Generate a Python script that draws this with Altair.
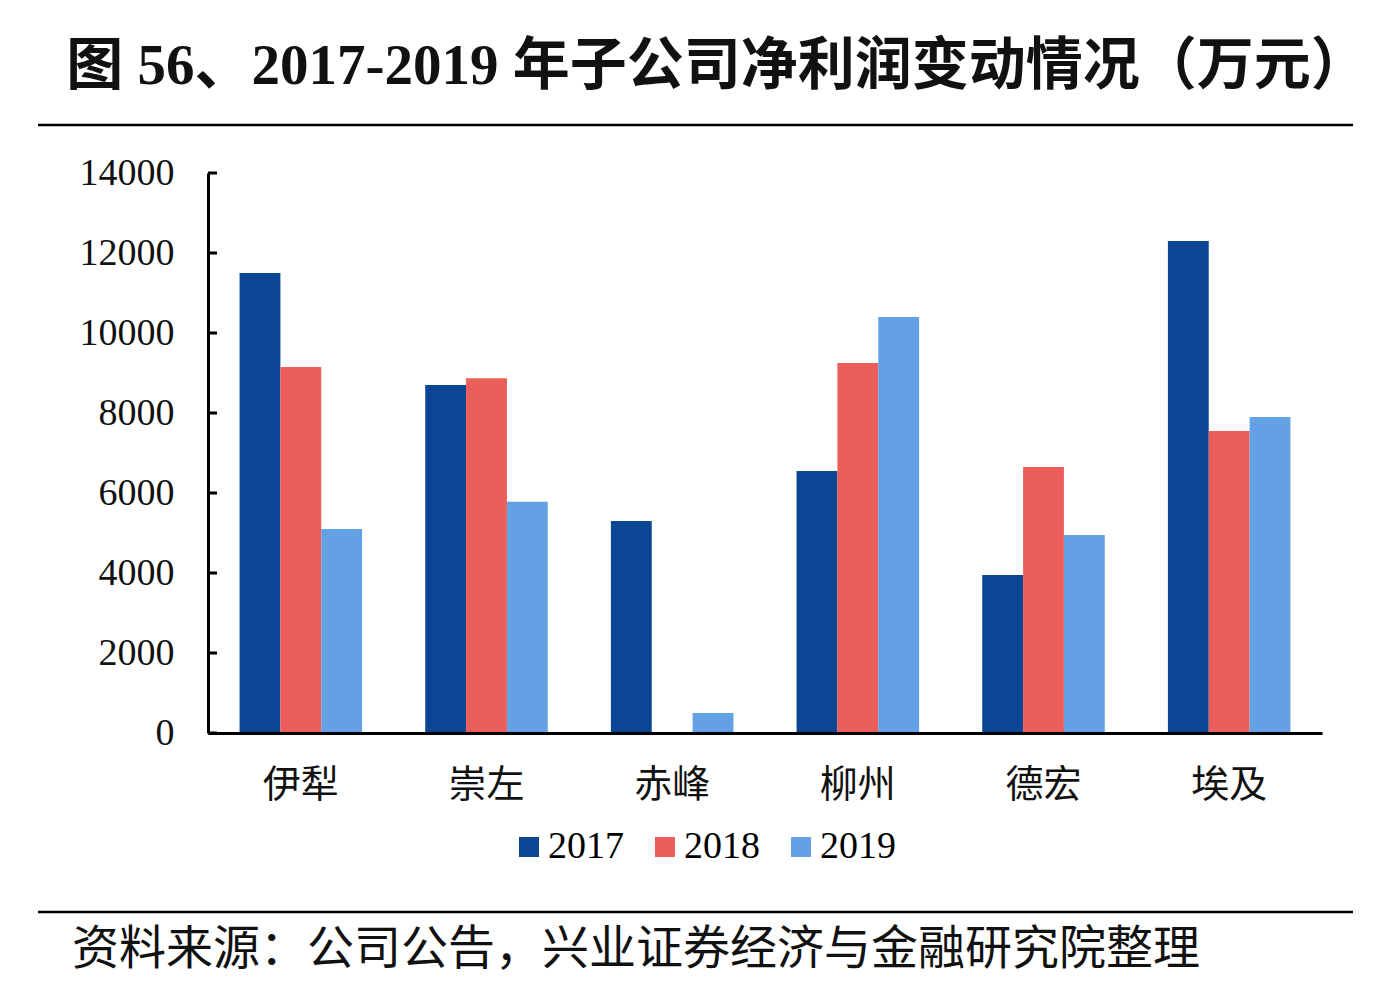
import altair as alt
import pandas as pd

categories = ["伊犁", "崇左", "赤峰", "柳州", "德宏", "埃及"]
years = ["2017", "2018", "2019"]
v2017 = [11500, 8700, 5300, 6550, 3950, 12300]
v2018 = [9150, 8870, 0, 9250, 6650, 7550]
v2019 = [5100, 5780, 500, 10400, 4950, 7900]
colors = ["#0A4694", "#EC5E5A", "#64A0E4"]
tick_values = [0, 2000, 4000, 6000, 8000, 10000, 12000, 14000]

title_text = "图 56、2017-2019 年子公司净利润变动情况（万元）"
source_text = "资料来源：公司公告，兴业证券经济与金融研究院整理"

rows = []
for i, c in enumerate(categories):
    for y, vals in zip(years, [v2017, v2018, v2019]):
        rows.append({"cat": c, "year": y, "value": vals[i]})
df = pd.DataFrame(rows)

SERIF = "Liberation Serif, 'Noto Sans CJK SC'"
CJK = "'Noto Sans CJK SC'"

W, H = 1114, 560

y_scale = alt.Scale(domain=[0, 14000], nice=False, zero=True)

bars = alt.Chart(df).mark_bar().encode(
    x=alt.X("cat:N", sort=categories,
            scale=alt.Scale(paddingInner=0.34, paddingOuter=0.17),
            axis=alt.Axis(title=None, labelAngle=0, ticks=False, tickSize=0,
                          labelPadding=52, labelBaseline="middle",
                          labelFont=CJK, labelFontSize=38, labelColor="#111",
                          domainColor="black", domainWidth=3, zindex=1)),
    xOffset=alt.XOffset("year:N", sort=years, scale=alt.Scale(paddingInner=0, paddingOuter=0)),
    y=alt.Y("value:Q", scale=y_scale,
            axis=alt.Axis(title=None, values=tick_values, grid=False, ticks=False,
                          format="d",
                          tickSize=0, labelPadding=34, labelFont=SERIF,
                          labelFontSize=38, labelColor="#111",
                          domainColor="black", domainWidth=3, zindex=1)),
    color=alt.Color("year:N", sort=years,
                    scale=alt.Scale(domain=years, range=colors),
                    legend=alt.Legend(title=None, orient="none", legendX=302, legendY=655,
                                      direction="horizontal", symbolType="square",
                                      symbolSize=400, symbolStrokeWidth=0,
                                      labelFont=SERIF, labelFontSize=38, labelColor="#000",
                                      labelOffset=0, columnPadding=22, padding=0)),
)

ticks = alt.Chart(pd.DataFrame({"t": tick_values})).mark_rule(
    color="black", strokeWidth=3
).encode(
    y=alt.Y("t:Q", scale=y_scale),
    x=alt.value(0), x2=alt.value(9),
)

title = alt.Chart(pd.DataFrame({"t": [title_text]})).mark_text(
    font=SERIF, fontSize=57, fontWeight="bold", align="center", baseline="middle",
    color="#111"
).encode(text="t:N", x=alt.value(509), y=alt.value(-106))

source = alt.Chart(pd.DataFrame({"t": [source_text]})).mark_text(
    font=CJK, fontSize=47, align="left", baseline="middle", color="#111"
).encode(text="t:N", x=alt.value(-136), y=alt.value(777))

lines = alt.Chart(pd.DataFrame({"yy": [-48, 739]})).mark_rule(
    color="black", strokeWidth=2.5
).encode(
    y=alt.Y("yy:Q", scale=None), x=alt.value(-170), x2=alt.value(1145)
)

chart = alt.layer(bars, ticks, title, source, lines).properties(
    width=W, height=H,
    padding={"left": 200, "top": 165, "right": 50, "bottom": 255},
    autosize=alt.AutoSizeParams(type="none"),
    background="white",
).configure_view(stroke=None)

chart.save("out.html", embed_options={"renderer": "svg", "actions": False})
